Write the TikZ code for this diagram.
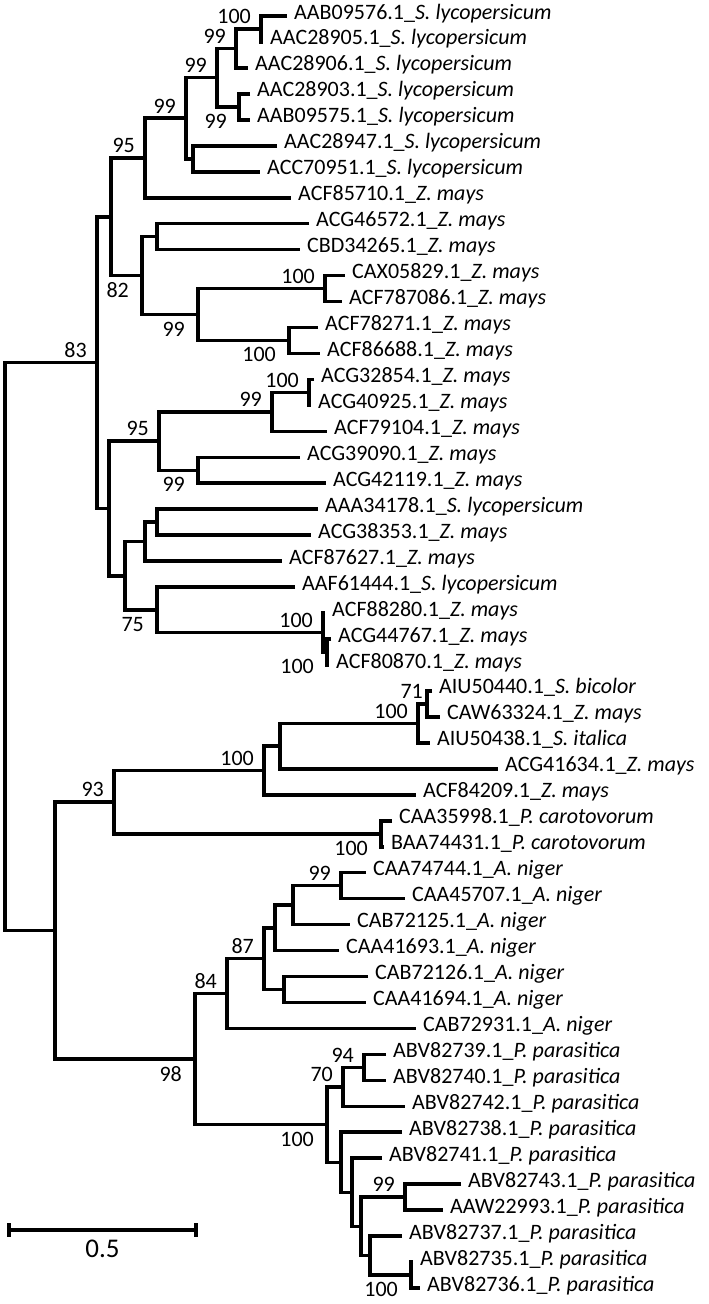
\documentclass[tikz,border=0pt]{standalone}
\usepackage{fontspec}
\setmainfont{Carlito}
\usepackage{tikz}
\usetikzlibrary{positioning}
\tikzset{
  tip/.style={anchor=west,inner xsep=7pt,inner ysep=0pt,text height=6pt,text depth=0pt,font=\fontsize{22}{24}\selectfont},
  br/.style={line width=3.6pt,line join=miter},
  bs/.style={inner sep=1pt,font=\fontsize{22}{24}\selectfont},
}

\begin{document}
\begin{tikzpicture}[x=1pt,y=-1pt]
\useasboundingbox (0,0) rectangle (709,1304);

\node[tip] (l1) at (287,16.00) {AAB09576.1\_\textit{S. lycopersicum}};
\node[tip] (l2) at (263,41.96) {AAC28905.1\_\textit{S. lycopersicum}};
\node[tip] (l3) at (248,67.92) {AAC28906.1\_\textit{S. lycopersicum}};
\node[tip] (l4) at (250,93.88) {AAC28903.1\_\textit{S. lycopersicum}};
\node[tip] (l5) at (250,119.84) {AAB09575.1\_\textit{S. lycopersicum}};
\node[tip] (l6) at (277,145.80) {AAC28947.1\_\textit{S. lycopersicum}};
\node[tip] (l7) at (260,171.76) {ACC70951.1\_\textit{S. lycopersicum}};
\node[tip] (l8) at (291,197.72) {ACF85710.1\_\textit{Z. mays}};
\node[tip] (l9) at (309,223.68) {ACG46572.1\_\textit{Z. mays}};
\node[tip] (l10) at (300,249.64) {CBD34265.1\_\textit{Z. mays}};
\node[tip] (l11) at (345,275.60) {CAX05829.1\_\textit{Z. mays}};
\node[tip] (l12) at (342,301.56) {ACF787086.1\_\textit{Z. mays}};
\node[tip] (l13) at (318,327.52) {ACF78271.1\_\textit{Z. mays}};
\node[tip] (l14) at (320,353.48) {ACF86688.1\_\textit{Z. mays}};
\node[tip] (l15) at (314,379.44) {ACG32854.1\_\textit{Z. mays}};
\node[tip] (l16) at (311,405.40) {ACG40925.1\_\textit{Z. mays}};
\node[tip] (l17) at (327,431.36) {ACF79104.1\_\textit{Z. mays}};
\node[tip] (l18) at (300,457.32) {ACG39090.1\_\textit{Z. mays}};
\node[tip] (l19) at (326,483.28) {ACG42119.1\_\textit{Z. mays}};
\node[tip] (l20) at (318,509.24) {AAA34178.1\_\textit{S. lycopersicum}};
\node[tip] (l21) at (311,535.20) {ACG38353.1\_\textit{Z. mays}};
\node[tip] (l22) at (282,561.16) {ACF87627.1\_\textit{Z. mays}};
\node[tip] (l23) at (295,587.12) {AAF61444.1\_\textit{S. lycopersicum}};
\node[tip] (l24) at (325,613.08) {ACF88280.1\_\textit{Z. mays}};
\node[tip] (l25) at (331,639.04) {ACG44767.1\_\textit{Z. mays}};
\node[tip] (l26) at (329,665.00) {ACF80870.1\_\textit{Z. mays}};
\node[tip] (l27) at (432,690.96) {AIU50440.1\_\textit{S. bicolor}};
\node[tip] (l28) at (440,716.92) {CAW63324.1\_\textit{Z. mays}};
\node[tip] (l29) at (430,742.88) {AIU50438.1\_\textit{S. italica}};
\node[tip] (l30) at (498,768.84) {ACG41634.1\_\textit{Z. mays}};
\node[tip] (l31) at (416,794.80) {ACF84209.1\_\textit{Z. mays}};
\node[tip] (l32) at (392,820.76) {CAA35998.1\_\textit{P. carotovorum}};
\node[tip] (l33) at (384,846.72) {BAA74431.1\_\textit{P. carotovorum}};
\node[tip] (l34) at (366,872.68) {CAA74744.1\_\textit{A. niger}};
\node[tip] (l35) at (405,898.64) {CAA45707.1\_\textit{A. niger}};
\node[tip] (l36) at (350,924.60) {CAB72125.1\_\textit{A. niger}};
\node[tip] (l37) at (339,950.56) {CAA41693.1\_\textit{A. niger}};
\node[tip] (l38) at (368,976.52) {CAB72126.1\_\textit{A. niger}};
\node[tip] (l39) at (366,1002.48) {CAA41694.1\_\textit{A. niger}};
\node[tip] (l40) at (416,1028.44) {CAB72931.1\_\textit{A. niger}};
\node[tip] (l41) at (386,1054.40) {ABV82739.1\_\textit{P. parasitica}};
\node[tip] (l42) at (386,1080.36) {ABV82740.1\_\textit{P. parasitica}};
\node[tip] (l43) at (405,1106.32) {ABV82742.1\_\textit{P. parasitica}};
\node[tip] (l44) at (402,1132.28) {ABV82738.1\_\textit{P. parasitica}};
\node[tip] (l45) at (382,1158.24) {ABV82741.1\_\textit{P. parasitica}};
\node[tip] (l46) at (461,1184.20) {ABV82743.1\_\textit{P. parasitica}};
\node[tip] (l47) at (443,1210.16) {AAW22993.1\_\textit{P. parasitica}};
\node[tip] (l48) at (402,1236.12) {ABV82737.1\_\textit{P. parasitica}};
\node[tip] (l49) at (413,1262.08) {ABV82735.1\_\textit{P. parasitica}};
\node[tip] (l50) at (420,1288.04) {ABV82736.1\_\textit{P. parasitica}};

\coordinate (a100) at (261,28.98);
\coordinate (a99) at (236,48.45);
\coordinate (a99b) at (239,106.86);
\coordinate (a99c) at (217,77.66);
\coordinate (a6) at (193,158.78);
\coordinate (a99d) at (186,118.22);
\coordinate (a95) at (145,157.97);
\coordinate (b157) at (157,236.66);
\coordinate (b100) at (325,288.58);
\coordinate (b100b) at (289,340.50);
\coordinate (b99) at (198,314.54);
\coordinate (b82) at (142,275.60);
\coordinate (c111) at (111,216.79);
\coordinate (d100) at (309,392.42);
\coordinate (d99) at (272,411.89);
\coordinate (d99b) at (198,470.30);
\coordinate (d95) at (159,441.10);
\coordinate (e157) at (157,522.22);
\coordinate (e145) at (145,541.69);
\coordinate (f327) at (327,652.02);
\coordinate (f100) at (323,632.55);
\coordinate (f75) at (157,609.84);
\coordinate (e125) at (125,575.77);
\coordinate (d109) at (109,508.43);
\coordinate (n83) at (97,362.61);
\coordinate (g71) at (427,703.94);
\coordinate (g100) at (418,723.41);
\coordinate (g280) at (280,746.13);
\coordinate (g100b) at (264,770.46);
\coordinate (h100) at (381,833.74);
\coordinate (g93) at (114,802.10);
\coordinate (k99) at (341,885.66);
\coordinate (k293) at (293,905.13);
\coordinate (k275) at (275,927.85);
\coordinate (k284) at (284,989.50);
\coordinate (k87) at (264,958.67);
\coordinate (k84) at (227,993.56);
\coordinate (m94) at (364,1067.38);
\coordinate (m70) at (343,1086.85);
\coordinate (m99) at (405,1197.18);
\coordinate (m100) at (411,1275.06);
\coordinate (m370) at (370,1255.59);
\coordinate (m361) at (361,1226.39);
\coordinate (m352) at (352,1192.32);
\coordinate (m341) at (341,1162.30);
\coordinate (m100b) at (327,1124.58);
\coordinate (k98) at (195,1059.07);
\coordinate (p55) at (55,930.59);
\coordinate (root) at (5,646.60);

\draw[br] (l1.west) -| (a100) |- (l2.west);
\draw[br] (a100) -| (a99) |- (l3.west);
\draw[br] (l4.west) -| (a99b) |- (l5.west);
\draw[br] (a99) -| (a99c) |- (a99b);
\draw[br] (l6.west) -| (a6) |- (l7.west);
\draw[br] (a99c) -| (a99d) |- (a6);
\draw[br] (a99d) -| (a95) |- (l8.west);
\draw[br] (l9.west) -| (b157) |- (l10.west);
\draw[br] (l11.west) -| (b100) |- (l12.west);
\draw[br] (l13.west) -| (b100b) |- (l14.west);
\draw[br] (b100) -| (b99) |- (b100b);
\draw[br] (b157) -| (b82) |- (b99);
\draw[br] (a95) -| (c111) |- (b82);
\draw[br] (l15.west) -| (d100) |- (l16.west);
\draw[br] (d100) -| (d99) |- (l17.west);
\draw[br] (l18.west) -| (d99b) |- (l19.west);
\draw[br] (d99) -| (d95) |- (d99b);
\draw[br] (l20.west) -| (e157) |- (l21.west);
\draw[br] (e157) -| (e145) |- (l22.west);
\draw[br] (l25.west) -| (f327) |- (l26.west);
\draw[br] (l24.west) -| (f100) |- (f327);
\draw[br] (l23.west) -| (f75) |- (f100);
\draw[br] (e145) -| (e125) |- (f75);
\draw[br] (d95) -| (d109) |- (e125);
\draw[br] (c111) -| (n83) |- (d109);
\draw[br] (l27.west) -| (g71) |- (l28.west);
\draw[br] (g71) -| (g100) |- (l29.west);
\draw[br] (g100) -| (g280) |- (l30.west);
\draw[br] (g280) -| (g100b) |- (l31.west);
\draw[br] (l32.west) -| (h100) |- (l33.west);
\draw[br] (g100b) -| (g93) |- (h100);
\draw[br] (l34.west) -| (k99) |- (l35.west);
\draw[br] (k99) -| (k293) |- (l36.west);
\draw[br] (k293) -| (k275) |- (l37.west);
\draw[br] (l38.west) -| (k284) |- (l39.west);
\draw[br] (k275) -| (k87) |- (k284);
\draw[br] (k87) -| (k84) |- (l40.west);
\draw[br] (l41.west) -| (m94) |- (l42.west);
\draw[br] (m94) -| (m70) |- (l43.west);
\draw[br] (l46.west) -| (m99) |- (l47.west);
\draw[br] (l49.west) -| (m100) |- (l50.west);
\draw[br] (l48.west) -| (m370) |- (m100);
\draw[br] (m99) -| (m361) |- (m370);
\draw[br] (l45.west) -| (m352) |- (m361);
\draw[br] (l44.west) -| (m341) |- (m352);
\draw[br] (m70) -| (m100b) |- (m341);
\draw[br] (k84) -| (k98) |- (m100b);
\draw[br] (g93) -| (p55) |- (k98);
\draw[br] (n83) -| (root) |- (p55);

\node[bs, above left=4pt and 9pt of a100] {100};
\node[bs, above left=4pt and 9pt of a99] {99};
\node[bs, below left=6pt and 11pt of a99b] {99};
\node[bs, above left=4pt and 9pt of a99c] {99};
\node[bs, above left=4pt and 9pt of a99d] {99};
\node[bs, above left=4pt and 9pt of a95] {95};
\node[bs, below left=6pt and 12pt of b82] {82};
\node[bs, below left=6pt and 12pt of b99] {99};
\node[bs, above left=4pt and 9pt of b100] {100};
\node[bs, below left=6pt and 12pt of b100b] {100};
\node[bs, above left=4pt and 9pt of d100] {100};
\node[bs, above left=4pt and 9pt of d99] {99};
\node[bs, above left=4pt and 9pt of d95] {95};
\node[bs, below left=6pt and 12pt of d99b] {99};
\node[bs, above left=4pt and 9pt of n83] {83};
\node[bs, below left=6pt and 12pt of f75] {75};
\node[bs, above left=4pt and 9pt of f100] {100};
\node[bs, below left=6pt and 12pt of f327] {100};
\node[bs, above left=4pt and 3pt of g71] {71};
\node[bs, above left=4pt and 9pt of g100] {100};
\node[bs, above left=4pt and 9pt of g100b] {100};
\node[bs, above left=4pt and 9pt of g93] {93};
\node[bs, below left=6pt and 12pt of h100] {100};
\node[bs, above left=4pt and 9pt of k99] {99};
\node[bs, above left=4pt and 9pt of k87] {87};
\node[bs, above left=4pt and 9pt of k84] {84};
\node[bs, below left=6pt and 12pt of k98] {98};
\node[bs, above left=4pt and 9pt of m94] {94};
\node[bs, above left=4pt and 9pt of m70] {70};
\node[bs, below left=6pt and 12pt of m100b] {100};
\node[bs, above left=4pt and 9pt of m99] {99};
\node[bs, below left=6pt and 12pt of m100] {100};

\coordinate (s0) at (9,1230);
\coordinate (s1) at (196,1230);
\coordinate (sm) at (102.5,1230);
\draw[br] (s0) -- (s1);
\draw[br] ([yshift=7pt]s0) -- ([yshift=-7pt]s0);
\draw[br] ([yshift=7pt]s1) -- ([yshift=-7pt]s1);
\node[bs, below=9pt of sm, font=\fontsize{27}{30}\selectfont] (scale) {0.5};
\end{tikzpicture}
\end{document}
